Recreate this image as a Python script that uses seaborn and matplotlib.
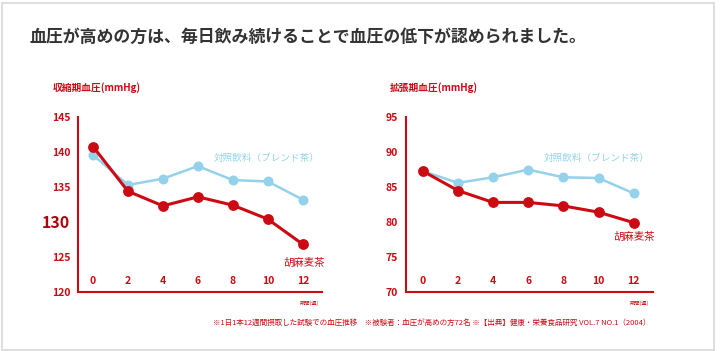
import matplotlib
matplotlib.use("Agg")
import matplotlib.pyplot as plt
import seaborn as sns
import pandas as pd
from matplotlib.patches import Rectangle

sns.set_style("white")
plt.rcParams['font.family'] = ['Noto Sans CJK JP', 'DejaVu Sans']

weeks = [0, 2, 4, 6, 8, 10, 12]
sys_sesame = [140.8, 134.4, 132.3, 133.6, 132.4, 130.4, 126.8]
sys_control = [139.6, 135.3, 136.2, 138.0, 136.0, 135.8, 133.2]
dia_sesame = [87.3, 84.5, 82.8, 82.8, 82.3, 81.4, 79.9]
dia_control = [87.3, 85.6, 86.4, 87.5, 86.4, 86.3, 84.1]
sys_ticks = [120, 125, 130, 135, 140, 145]
dia_ticks = [70, 75, 80, 85, 90, 95]

title = "血圧が高めの方は、毎日飲み続けることで血圧の低下が認められました。"
sub_left = "収縮期血圧(mmHg)"
sub_right = "拡張期血圧(mmHg)"
label_control = "対照飲料（ブレンド茶）"
label_sesame = "胡麻麦茶"
xunit = "期間(週)"
footnote = "※1日1本12週間摂取した試験での血圧推移　※被験者：血圧が高めの方72名 ※【出典】健康・栄養食品研究 VOL.7 NO.1（2004）"

RED = "#cc0a14"
BLUE = "#93d2ea"

W, H = 720, 351
fig = plt.figure(figsize=(7.2, 3.51), dpi=100)
fig.add_artist(Rectangle((1.5 / W, 1.5 / H), (W - 8) / W, (H - 4) / H, transform=fig.transFigure,
                         fill=False, edgecolor="#d8d8d8", linewidth=1.2))

fig.text(30 / W, 1 - 37 / H, title, fontsize=12.2, color="#333333", fontweight="bold", va="center", ha="left")


def make_panel(rect, xlim, sesame, control, ticks, big_tick, sub, ctrl_pos, ses_pos, sub_x):
    ax = fig.add_axes([rect[0] / W, 1 - rect[3] / H, (rect[2] - rect[0]) / W, (rect[3] - rect[1]) / H])
    df = pd.DataFrame({"week": weeks * 2, "value": control + sesame,
                       "group": ["control"] * len(weeks) + ["sesame"] * len(weeks)})
    sns.lineplot(data=df[df.group == "control"], x="week", y="value", ax=ax, color=BLUE,
                 marker="o", markersize=7.2, markeredgewidth=0, linewidth=1.8, legend=False)
    sns.lineplot(data=df[df.group == "sesame"], x="week", y="value", ax=ax, color=RED,
                 marker="o", markersize=7.8, markeredgewidth=0, linewidth=2.2, legend=False)
    ax.set_xlim(*xlim)
    ax.set_ylim(ticks[0], ticks[-1])
    ax.set_xlabel("")
    ax.set_ylabel("")
    for s in ["top", "right"]:
        ax.spines[s].set_visible(False)
    for s in ["left", "bottom"]:
        ax.spines[s].set_color(RED)
        ax.spines[s].set_linewidth(1.5)
    ax.set_xticks(weeks)
    ax.set_xticklabels([str(w) for w in weeks])
    ax.set_xticks([1, 3, 5, 7, 9, 11, 13], minor=True)
    ax.tick_params(axis="x", which="major", length=0, pad=-11, labelsize=7.5, labelcolor=RED)
    ax.tick_params(axis="x", which="minor", direction="in", length=4, width=1.5, color=RED)
    ax.set_yticks(ticks)
    ax.set_yticklabels([str(t) for t in ticks])
    ax.tick_params(axis="y", which="major", direction="inout", length=5, width=1.2, color=RED,
                   labelsize=7.5, labelcolor=RED, pad=3)
    for lbl in ax.get_yticklabels() + ax.get_xticklabels():
        lbl.set_fontweight("bold")
    for lbl, t in zip(ax.get_yticklabels(), ticks):
        if t == big_tick:
            lbl.set_fontsize(11.5)
            lbl.set_color("#b0000a")
    ax.text(ctrl_pos[0], ctrl_pos[1], label_control, color=BLUE, fontsize=6.9, ha="left", va="center")
    ax.text(ses_pos[0], ses_pos[1], label_sesame, color=RED, fontsize=7.5, ha="center", va="center")
    ax.text(12.9, -0.065, xunit, transform=ax.get_xaxis_transform(), fontsize=3.8, color=RED,
            ha="right", va="center")
    fig.text(sub_x / W, 1 - 88 / H, sub, color=RED, fontsize=7, fontweight="bold", va="center", ha="left")
    ax.patch.set_alpha(0)
    return ax


make_panel((78, 117.3, 322, 291.7), (-0.86, 13.1), sys_sesame, sys_control, sys_ticks, 130,
           sub_left, (6.9, 139.1), (12.1, 124.2), 53)
make_panel((406, 117.3, 653, 291.7), (-0.95, 13.1), dia_sesame, dia_control, dia_ticks, None,
           sub_right, (6.9, 89.1), (12.0, 77.8), 390)

fig.text(432 / W, 1 - 323 / H, footnote, fontsize=5.45, color=RED, ha="center", va="center")

fig.savefig("out.png", dpi=100)
